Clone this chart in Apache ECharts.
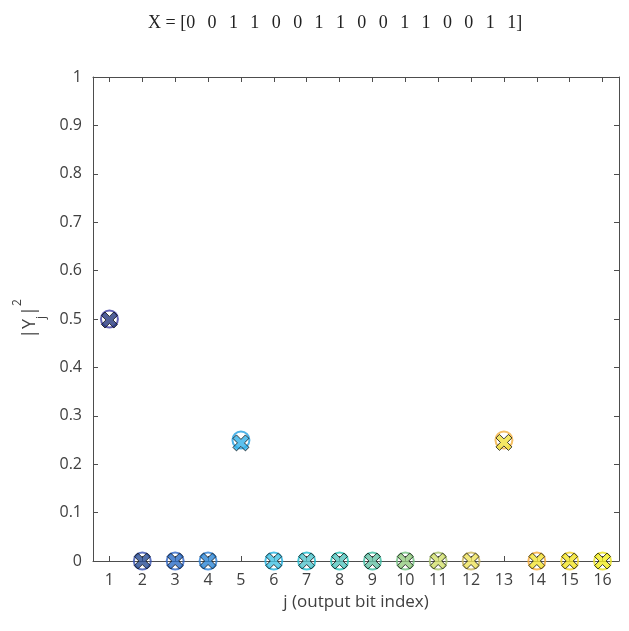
<!DOCTYPE html>
<html><head><meta charset="utf-8">
<script src="https://cdn.jsdelivr.net/npm/echarts@6/dist/echarts.min.js"></script>
<style>html,body{margin:0;padding:0;background:#fff}#c{width:629px;height:631px}</style>
</head><body><div id="c"></div>
<script>
const categories = [1,2,3,4,5,6,7,8,9,10,11,12,13,14,15,16];
const xBits = [0,0,1,1,0,0,1,1,0,0,1,1,0,0,1,1];
const idealValues = [0.5,0,0,0,0.25,0,0,0,0,0,0,0,0.25,0,0,0];
const measuredValues = [0.498,0,0,0,0.244,0,0,0,0,0,0,0,0.245,0,0,0];
const circleColors = ['#3b3aa3','#3550b0','#2f67c8','#2b80d6','#22a0e2','#22b2e0','#1cbcce','#22c0b4','#3cbba0','#74c282','#a6c26a','#c9b55a','#f3b03f','#f8aa35','#f2d226','#e9e21f'];
const crossColors = ['#26377e','#284c93','#2b6cc6','#2c86d6','#32b2ea','#42c2e2','#52c4cc','#55c4be','#66c2a6','#93ca80','#d2e06c','#efe35c','#f1e23e','#f2e434','#f2e426','#f2ee22'];
const yTicks = [0,0.1,0.2,0.3,0.4,0.5,0.6,0.7,0.8,0.9,1];

const crossPath = 'path://M22,0 L50,28 L78,0 L100,22 L72,50 L100,78 L78,100 L50,72 L22,100 L0,78 L28,50 L0,22 Z';

const titleText = '{t|X = [}' + xBits.map((b, i) => i < xBits.length - 1 ? '{d|' + b + '}' : '{t|' + b + ']}').join('');

const chart = echarts.init(document.getElementById('c'), null, {renderer:'canvas'});
const axisCol = '#4d4d4d';
const textCol = '#404040';
const font = 'Open Sans';
const axisCommon = {
  axisLine:{show:true, onZero:false, lineStyle:{color:axisCol,width:1}},
  axisTick:{show:true, inside:true, length:5, lineStyle:{color:axisCol,width:1}},
  splitLine:{show:false}
};
chart.setOption({
  animation:false,
  title:{
    text: titleText, left: 143, top: 9,
    textStyle:{fontFamily:'Liberation Serif', fontSize:18, fontWeight:'normal', color:'#222',
      rich:{t:{fontFamily:'Liberation Serif', fontSize:18, color:'#222'},
            d:{fontFamily:'Liberation Serif', fontSize:18, width:21.4, align:'left', color:'#222'}}}
  },
  grid:{left:93, top:77, width:526, height:484},
  xAxis:[
    Object.assign({type:'value', min:0.5, max:16.5, interval:1, position:'bottom',
      name:'j (output bit index)', nameLocation:'middle', nameGap:33,
      nameTextStyle:{fontFamily:font, fontSize:17, color:textCol},
      axisLabel:{fontFamily:font, fontSize:16, color:textCol, margin:11,
        customValues: categories, formatter: v => String(v)},
    }, axisCommon, {axisTick:Object.assign({}, axisCommon.axisTick, {customValues: categories})}),
    Object.assign({type:'value', min:0.5, max:16.5, interval:1, position:'top',
      axisLabel:{show:false}}, axisCommon, {axisTick:Object.assign({}, axisCommon.axisTick, {customValues: categories})})
  ],
  yAxis:[
    Object.assign({type:'value', min:0, max:1, interval:0.1, position:'left',
      name:'{a||Y}{s|j}{a||}{p|2}', nameLocation:'middle', nameGap:54, nameRotate:90,
      nameTextStyle:{fontFamily:font, fontSize:18, color:textCol,
        rich:{a:{fontFamily:font, fontSize:18, color:textCol},
              s:{fontFamily:font, fontSize:12, color:textCol, verticalAlign:'bottom', padding:[0,0,-9,0]},
              p:{fontFamily:font, fontSize:12, color:textCol, verticalAlign:'top', padding:[-9,0,0,0]}}},
      axisLabel:{fontFamily:font, fontSize:16, color:textCol, margin:11,
        formatter: v => (Math.abs(v) < 1e-9 ? '0' : (Math.abs(v-1)<1e-9 ? '1' : v.toFixed(1)))}
    }, axisCommon),
    Object.assign({type:'value', min:0, max:1, interval:0.1, position:'right',
      axisLabel:{show:false}}, axisCommon)
  ],
  series:[
    {type:'scatter', clip:false, symbol:'circle', symbolSize:17, z:2,
      data: categories.map((c,i) => ({value:[c, idealValues[i]],
        itemStyle:{color:'rgba(255,255,255,0)', borderColor:circleColors[i], borderWidth:2}}))},
    {type:'scatter', clip:false, symbol:crossPath, symbolSize:16, z:3,
      data: categories.map((c,i) => ({value:[c, measuredValues[i]],
        itemStyle:{color:crossColors[i], borderColor:'#111', borderWidth:1}}))}
  ]
});
</script></body></html>
